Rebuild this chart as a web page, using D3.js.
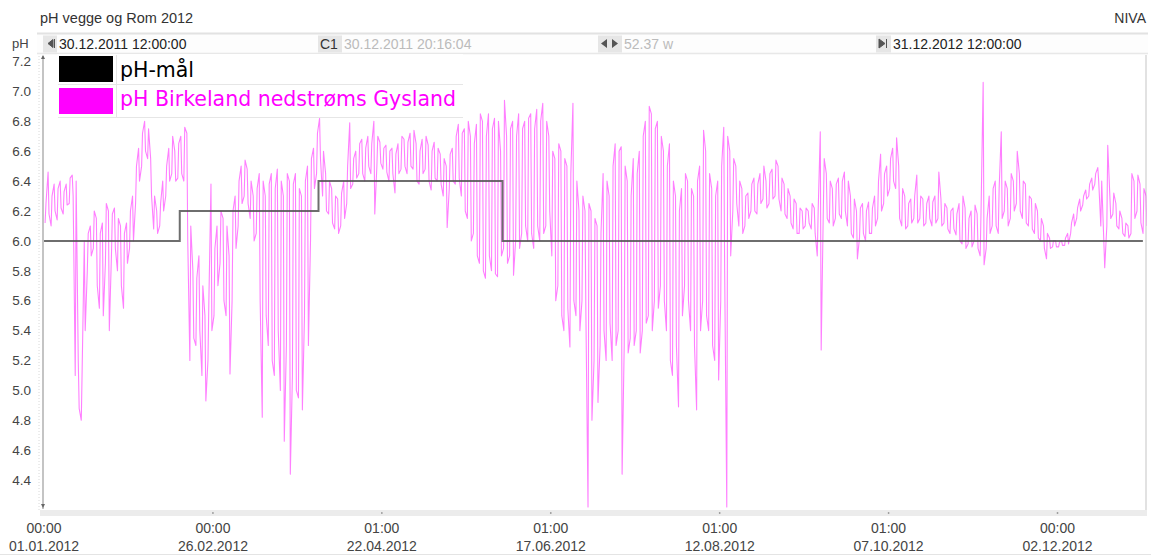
<!DOCTYPE html>
<html><head><meta charset="utf-8">
<script src="https://cdn.jsdelivr.net/npm/d3@7"></script>
<style>body{margin:0;background:#fff}svg{display:block}</style>
</head><body>
<svg id="c" width="1151" height="555"></svg>
<script>
const titleText = "pH vegge og Rom 2012";
const sourceText = "NIVA";
const headerFrom = "30.12.2011 12:00:00";
const headerCursor = "30.12.2011 20:16:04";
const headerSpan = "52.37 w";
const headerTo = "31.12.2012 12:00:00";
const seriesNames = ["pH-mål", "pH Birkeland nedstrøms Gysland"];
const seriesColors = ["#000000", "#ff00ff"];
const yTicks = [4.4, 4.6, 4.8, 5.0, 5.2, 5.4, 5.6, 5.8, 6.0, 6.2, 6.4, 6.6, 6.8, 7.0, 7.2];
const xTickDays = [0, 56, 112, 168, 224, 280, 336];
const xTickTimes = ["00:00", "00:00", "01:00", "01:00", "01:00", "01:00", "00:00"];
const xTickDates = ["01.01.2012", "26.02.2012", "22.04.2012", "17.06.2012", "12.08.2012", "07.10.2012", "02.12.2012"];
// pH target (step), days since 01.01.2012
const goalDays = [0, 45, 91, 152, 364.3];
const goalValues = [6.0, 6.2, 6.4, 6.0, 6.0];
// daily high / low pH readings, day 0 = 01.01.2012
const phHigh = [
6.25,6.46,6.30,6.38,6.35,6.40,6.33,6.38,6.42,6.44,
6.40,5.20,5.15,6.00,6.05, 6.10,6.20,6.15,6.05,6.12,
6.25,6.20,6.18,6.22,6.15, 6.10,6.05,6.12,6.20,6.30,
6.50,6.62,6.72,6.80,6.75, 6.55,6.30,6.20,6.25,6.40,
6.50,6.62,6.70,6.60,6.65, 6.70,6.76,6.72,6.10,5.80,
5.75,5.90,5.70,5.50,5.60, 6.38,5.95,6.10,6.20,6.15,
6.10,5.90,6.20,6.30,6.40, 6.50,6.54,6.48,6.40,6.30,
6.35,6.45,6.40,6.30,6.38, 6.45,6.35,6.48,6.40,6.30,
6.45,6.40,6.38,6.45,6.35, 6.30,6.40,6.50,6.55,6.62,
6.72,6.82,6.60,6.45,6.40, 6.35,6.30,6.28,6.32,6.40,
6.50,6.79,6.55,6.60,6.65, 6.68,6.62,6.70,6.65,6.80,
6.70,6.66,6.62,6.64,6.60, 6.62,6.58,6.65,6.70,6.68,
6.66,6.72,6.74,6.65,6.60, 6.68,6.70,6.64,6.60,6.66,
6.62,6.58,6.55,6.50,6.58, 6.62,6.70,6.78,6.72,6.75,
6.80,6.70,6.65,6.78,6.85, 6.80,6.70,6.85,6.75,6.82,
6.80,6.60,6.94,6.70,6.75, 6.80,6.70,6.85,6.75,6.80,
6.82,6.85,6.75,6.88,6.80, 6.92,6.80,6.70,6.60,6.55,
6.65,6.60,6.55,6.50,6.45, 6.92,6.40,6.20,6.30,6.20,
6.25,6.20,6.15,6.10,6.05, 6.45,6.40,6.30,6.50,6.65,
6.60,6.63,6.50,6.40,6.30, 6.55,6.45,6.60,6.70,6.80,
6.90,6.85,6.75,6.80,6.70, 6.60,6.50,6.65,6.40,6.30,
6.20,6.35,6.45,6.40,6.35, 6.30,6.40,6.50,6.74,6.60,
6.45,6.35,6.30,6.40,6.50, 6.76,6.70,6.60,6.55,6.50,
6.40,6.35,6.30,6.32,6.38, 6.42,6.38,6.45,6.50,6.40,
6.45,6.48,6.54,6.50,6.42, 6.38,6.35,6.30,6.28,6.25,
6.22,6.20,6.22,6.20,6.25, 6.22,6.20,6.73,6.55,6.45,
6.40,6.35,6.38,6.42,6.40, 6.46,6.40,6.30,6.28,6.20,
6.22,6.25,6.20,6.26,6.22, 6.30,6.40,6.58,6.45,6.50,
6.55,6.62,6.69,6.50,6.35, 6.30,6.25,6.28,6.30,6.44,
6.30,6.28,6.25,6.30,6.26, 6.30,6.46,6.28,6.25,6.22,
6.20,6.22,6.18,6.25,6.30, 6.22,6.15,6.20,6.24,6.18,
6.20,7.06,6.15,6.30,6.35, 6.40,6.35,6.73,6.40,6.35,
6.45,6.40,6.60,6.45,6.40, 6.38,6.30,6.28,6.25,6.20,
6.15,6.10,6.05,6.02,6.00, 6.00,5.99,6.00,6.02,6.05,
6.12,6.18,6.22,6.28,6.30, 6.34,6.38,6.42,6.45,6.49,
6.40,6.00,6.64,6.30,6.32, 6.25,6.20,6.15,6.12,6.10,
6.45,6.40,6.44,6.38,6.35,6.30];
const phLow = [
6.12,6.18,6.10,6.20,6.14,6.22,6.18,6.24,6.25,6.30,
5.10,4.88,4.80,5.40,5.80, 5.90,5.95,5.70,5.55,5.50,
5.85,5.40,5.90,5.95,5.80, 5.70,5.55,5.85,5.95,6.00,
6.25,6.40,6.50,6.60,6.55, 6.30,6.08,6.05,6.10,6.20,
6.30,6.40,6.45,6.40,6.42, 6.45,6.40,6.00,5.20,5.35,
5.30,5.40,5.10,4.93,5.20, 5.40,5.50,5.70,5.85,5.60,
5.50,5.11,5.60,5.95,6.10, 6.25,6.30,6.25,6.15,6.00,
6.05,5.60,4.82,5.50,5.30, 5.20,5.10,5.40,5.00,4.66,
5.30,4.44,5.10,5.00,4.95, 4.87,5.50,5.30,6.00,6.35,
6.45,6.55,6.30,6.20,6.18, 6.12,6.08,6.05,6.10,6.15,
6.25,6.35,6.38,6.42,6.45, 6.45,6.40,6.50,6.45,6.18,
6.50,6.52,6.48,6.46,6.40, 6.45,6.32,6.45,6.48,6.50,
6.45,6.50,6.48,6.40,6.38, 6.45,6.48,6.40,6.34,6.42,
6.40,6.38,6.30,6.09,6.35, 6.40,6.38,6.42,6.30,6.20,
6.15,6.00,6.05,5.90,5.85, 5.80,5.75,5.90,5.80,5.78,
5.76,5.90,5.95,5.85,5.90, 5.77,6.00,5.95,6.05,6.10,
6.00,6.05,5.95,6.10,6.00, 6.05,6.10,6.20,5.90,5.60,
5.70,5.50,5.40,5.55,5.29, 5.60,5.50,5.40,5.60,5.50,
4.22,4.80,5.20,4.92,5.30, 5.40,5.20,5.45,5.20,5.30,
5.40,4.44,5.30,5.25,5.35, 5.30,5.40,5.25,5.40,5.45,
5.50,5.40,5.60,5.55,5.70, 5.60,5.40,5.20,5.10,5.30,
4.89,5.50,5.70,5.60,5.40, 5.30,4.87,5.40,5.60,5.50,
5.40,5.30,5.20,5.07,5.60, 5.80,4.22,5.90,6.20,6.25,
6.10,6.05,6.10,6.15,6.20, 6.20,6.18,6.25,6.28,6.22,
6.25,6.28,6.30,6.28,6.20, 6.18,6.15,6.12,6.08,6.05,
6.05,6.08,6.10,6.12,6.08, 6.05,5.90,5.27,6.20,6.15,
6.12,6.10,6.15,6.18,6.15, 6.20,6.10,6.05,6.02,5.88,
6.02,6.05,6.00,6.05,6.05, 6.10,6.15,6.20,6.25,6.30,
6.35,6.40,6.35,6.15,6.10, 6.08,6.10,6.12,6.15,6.12,
6.15,6.10,6.12,6.15,6.10, 6.12,6.15,6.10,6.12,6.08,
6.05,6.08,6.04,6.00,5.98, 5.95,5.98,5.96,6.00,5.95,
5.90,5.84,5.95,6.05,6.10, 6.10,6.05,6.15,6.20,6.10,
6.15,6.20,6.25,6.20,6.15, 6.12,6.10,6.08,6.05,6.02,
6.00,5.95,5.88,5.95,5.96, 5.96,5.96,5.97,5.97,5.98,
6.05,6.10,6.15,6.20,6.24, 6.28,6.30,6.34,6.38,6.40,
6.10,5.82,6.10,6.15,6.18, 6.10,6.08,6.05,6.03,6.02,
6.05,6.15,6.20,6.12,6.05,6.10];

const DAY = 864e5, T0 = Date.UTC(2012, 0, 1);
const toDate = d => new Date(T0 + d * DAY);
const svg = d3.select("#c");
const FONT = "'Liberation Sans', Arial, sans-serif";
const plot = {left: 39.5, right: 1146.5, top: 55.5, bottom: 510};

const x = d3.scaleUtc().domain([toDate(-1.5), toDate(365.5)]).range([plot.left, plot.right]);
const y = d3.scaleLinear().domain([4.2, 7.24]).range([plot.bottom, plot.top]);

// header
svg.append("text").attr("x", 40).attr("y", 23).attr("font-family", FONT).attr("font-size", 14.5)
  .attr("fill", "#333").text(titleText);
svg.append("text").attr("x", 1146).attr("y", 23).attr("text-anchor", "end").attr("font-family", FONT)
  .attr("font-size", 14).attr("fill", "#333").text(sourceText);
svg.append("rect").attr("x", 37).attr("y", 33).attr("width", 1111).attr("height", 20).attr("fill", "#fdfdfd");
svg.append("line").attr("x1", 37).attr("x2", 1148).attr("y1", 33.5).attr("y2", 33.5).attr("stroke", "#e2e2e2").attr("stroke-width", 2);
svg.append("line").attr("x1", 37).attr("x2", 1148).attr("y1", 53.5).attr("y2", 53.5).attr("stroke", "#e8e8e8").attr("stroke-width", 1.5);
svg.append("text").attr("x", 12).attr("y", 48).attr("font-family", FONT).attr("font-size", 13).attr("fill", "#444").text("pH");
const btns = [[43, 14], [318, 24], [598, 24], [876, 15]];
svg.selectAll("rect.btn").data(btns).join("rect").attr("class", "btn")
  .attr("x", d => d[0]).attr("y", 35.5).attr("width", d => d[1]).attr("height", 17).attr("fill", "#e6e6e6");
svg.append("path").attr("d", "M48,43.5 L53,39.5 L53,47.5 Z M54.5,39 L54.5,48").attr("fill", "#555").attr("stroke", "#555").attr("stroke-width", 1);
svg.append("path").attr("d", "M601,43.5 L607,39 L607,48 Z M618,43.5 L612,39 L612,48 Z").attr("fill", "#555");
svg.append("path").attr("d", "M879,39 L885,43.5 L879,48 Z M886.5,39 L886.5,48").attr("fill", "#555").attr("stroke", "#555").attr("stroke-width", 1);
svg.append("text").attr("x", 320).attr("y", 49).attr("font-family", FONT).attr("font-size", 14).attr("fill", "#333").text("C1");
const headTexts = [[59, headerFrom, "#222"], [344, headerCursor, "#bbb"], [624, headerSpan, "#bbb"], [893, headerTo, "#222"]];
svg.selectAll("text.head").data(headTexts).join("text").attr("class", "head")
  .attr("x", d => d[0]).attr("y", 48.5).attr("font-family", FONT).attr("font-size", 14)
  .attr("fill", d => d[2]).text(d => d[1]);

// frame
svg.append("rect").attr("x", 40).attr("y", 510).attr("width", 1107).attr("height", 6).attr("fill", "#ececec");
svg.append("line").attr("x1", 39).attr("x2", 39).attr("y1", 56).attr("y2", 510).attr("stroke", "#d8d8d8").attr("stroke-dasharray", "1,2");
svg.append("line").attr("x1", 43).attr("x2", 43).attr("y1", 56).attr("y2", 509).attr("stroke", "#c4c4c4").attr("stroke-width", 2);
svg.append("line").attr("x1", 1146).attr("x2", 1146).attr("y1", 55).attr("y2", 510).attr("stroke", "#d8d8d8").attr("stroke-width", 1.5);
svg.append("path").attr("d", "M41,59 L43,55 L45,59 Z M41,504 L43,508 L45,504 Z").attr("fill", "#666");
svg.append("line").attr("x1", 0).attr("x2", 1151).attr("y1", 554.5).attr("y2", 554.5).attr("stroke", "#e4e4e4");

// y axis labels
svg.append("g").selectAll("text").data(yTicks).join("text")
  .attr("x", 31).attr("y", d => y(d)).attr("dy", "0.35em").attr("text-anchor", "end")
  .attr("font-family", FONT).attr("font-size", 13.5).attr("fill", "#444").text(d => d.toFixed(1));

// x axis labels
const xg = svg.append("g");
xg.selectAll("text.t").data(xTickDays).join("text").attr("class", "t")
  .attr("x", d => x(toDate(d))).attr("y", 533).attr("text-anchor", "middle")
  .attr("font-family", FONT).attr("font-size", 14).attr("fill", "#444").text((d, i) => xTickTimes[i]);
xg.selectAll("text.d").data(xTickDays).join("text").attr("class", "d")
  .attr("x", d => x(toDate(d))).attr("y", 551).attr("text-anchor", "middle")
  .attr("font-family", FONT).attr("font-size", 14).attr("fill", "#444").text((d, i) => xTickDates[i]);
xg.selectAll("circle").data(xTickDays.slice(1)).join("circle")
  .attr("cx", d => x(toDate(d))).attr("cy", 513).attr("r", 0.9).attr("fill", "#999");

// data: each day drawn as a vertical min-max stroke, joined to the next day
svg.append("clipPath").attr("id", "clip").append("rect")
  .attr("x", 44).attr("y", plot.top).attr("width", plot.right - 44).attr("height", plot.bottom - plot.top);
const phPoints = [];
phHigh.forEach((h, i) => {
  const lo = phLow[i];
  if (i % 2 === 0) { phPoints.push([i + 0.35, lo]); phPoints.push([i + 0.65, h]); }
  else { phPoints.push([i + 0.35, h]); phPoints.push([i + 0.65, lo]); }
});
const line = d3.line().x(d => x(toDate(d[0]))).y(d => y(d[1]));
svg.append("path").datum(phPoints).attr("clip-path", "url(#clip)")
  .attr("fill", "none").attr("stroke", seriesColors[1]).attr("stroke-width", 1.1)
  .attr("stroke-opacity", 0.5).attr("stroke-linejoin", "round").attr("d", line);

const goalPts = goalDays.map((d, i) => [d, goalValues[i]]);
svg.append("path").datum(goalPts).attr("fill", "none").attr("stroke", "#555").attr("stroke-opacity", 0.85)
  .attr("stroke-width", 2).attr("d", d3.line().curve(d3.curveStepAfter).x(d => x(toDate(d[0]))).y(d => y(d[1])));

// legend
const lg = svg.append("g");
lg.append("rect").attr("x", 57).attr("y", 54).attr("width", 406).attr("height", 64).attr("fill", "#fff");
lg.selectAll("rect.sw").data(seriesNames).join("rect").attr("class", "sw")
  .attr("x", 59).attr("y", (d, i) => 56 + i * 32).attr("width", 54).attr("height", 26).attr("fill", (d, i) => seriesColors[i]);
lg.selectAll("text").data(seriesNames).join("text")
  .attr("x", 120).attr("y", (d, i) => 77 + i * 29).attr("font-family", "'DejaVu Sans', sans-serif").attr("font-size", 20.5)
  .attr("fill", (d, i) => seriesColors[i]).text(d => d);
lg.append("path").attr("d", "M58,84.5 H463 M58,117.5 H463 M116.5,55 V118").attr("stroke", "#e6e6e6").attr("fill", "none");
</script>
</body></html>
